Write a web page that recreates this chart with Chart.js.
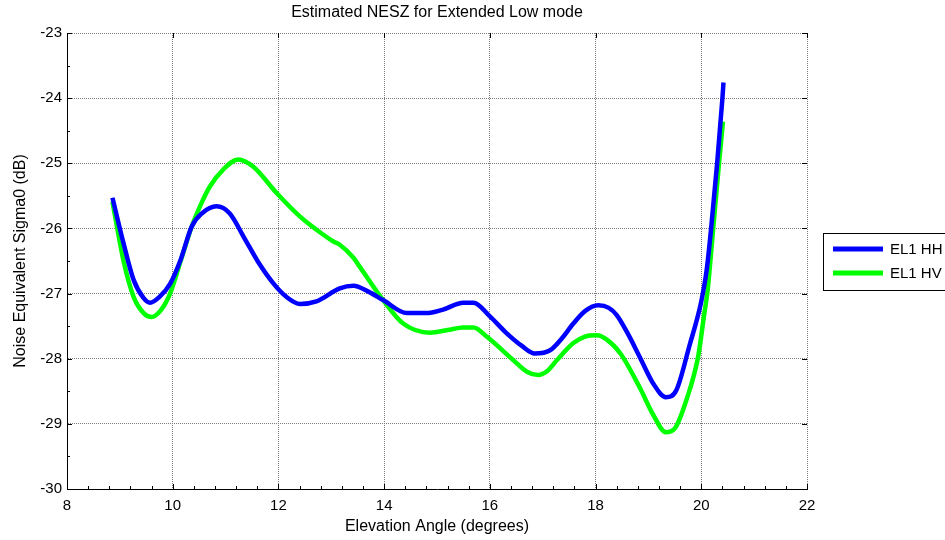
<!DOCTYPE html>
<html>
<head>
<meta charset="utf-8">
<script src="https://cdn.jsdelivr.net/npm/chart.js@4.4.1/dist/chart.umd.min.js"></script>
<style>
  html, body { margin: 0; padding: 0; background: #fff; }
  #wrap { width: 945px; height: 540px; }
</style>
</head>
<body>
<div id="wrap"><canvas id="neszChart"></canvas></div>
<script>
// values
const seriesLabels = ['EL1 HH', 'EL1 HV'];
const seriesColors = ['#0000FF', '#00FF00'];

const hhAngles = [8.86, 9.07, 9.26, 9.45, 9.57, 9.75, 9.95, 10.15, 10.36, 10.55, 10.83, 11.08, 11.35, 11.62,
  11.9, 12.15, 12.41, 12.72, 13.16, 13.42, 13.7, 13.98, 14.43, 14.8, 15.1, 15.5, 15.69, 16.0, 16.32, 16.6,
  16.85, 17.14, 17.35, 17.58, 17.8, 18.05, 18.25, 18.4, 18.6, 18.84, 19.09, 19.33, 19.53, 19.79, 19.9,
  20.0, 20.1, 20.18, 20.3, 20.4, 20.42];
const hhValues = [-25.53, -26.23, -26.79, -27.07, -27.14, -27.05, -26.85, -26.48, -25.97, -25.77, -25.66, -25.77, -26.14, -26.52,
  -26.84, -27.05, -27.16, -27.12, -26.92, -26.88, -26.97, -27.1, -27.3, -27.3, -27.25, -27.14, -27.14, -27.35, -27.61, -27.8,
  -27.92, -27.87, -27.7, -27.46, -27.27, -27.18, -27.22, -27.33, -27.6, -27.98, -28.38, -28.59, -28.48, -27.76, -27.45,
  -27.12, -26.65, -26.05, -25.0, -24.0, -23.76];

const hvAngles = [8.86, 9.07, 9.26, 9.45, 9.6, 9.78, 9.95, 10.15, 10.36, 10.55, 10.7, 10.95, 11.24, 11.52,
  11.97, 12.41, 12.72, 13.04, 13.16, 13.42, 13.54, 13.98, 14.36, 14.87, 15.2, 15.5, 15.69, 15.94, 16.44, 16.7,
  16.91, 17.1, 17.27, 17.58, 17.8, 18.02, 18.2, 18.47, 18.84, 19.09, 19.33, 19.5, 19.72, 19.94, 20.05,
  20.12, 20.22, 20.33, 20.41];
const hvValues = [-25.59, -26.5, -27.05, -27.3, -27.36, -27.25, -27.0, -26.5, -25.97, -25.6, -25.36, -25.1, -24.94, -25.05,
  -25.46, -25.82, -26.02, -26.2, -26.25, -26.45, -26.59, -27.1, -27.46, -27.6, -27.56, -27.52, -27.52, -27.66, -28.02, -28.2,
  -28.25, -28.18, -28.02, -27.76, -27.66, -27.64, -27.7, -27.92, -28.45, -28.86, -29.13, -29.07, -28.63, -27.97, -27.35,
  -26.95, -26.05, -25.05, -24.36];

const xTicks = [8, 10, 12, 14, 16, 18, 20, 22];
const yTicks = [-30, -29, -28, -27, -26, -25, -24, -23];

const toPoints = (xs, ys) => xs.map((v, i) => ({ x: v, y: ys[i] }));

const fontFamily = '"Liberation Sans", Arial, sans-serif';

// MATLAB style ticks pointing into the plot + legend box at the right
const matlabAxes = {
  id: 'matlabAxes',
  afterDraw(chart) {
    const { ctx, chartArea: { left, right, top, bottom }, scales: { x, y } } = chart;
    ctx.save();
    ctx.strokeStyle = '#000';
    ctx.lineWidth = 1;
    ctx.beginPath();
    for (let v = 8; v <= 22.0001; v += 0.4) {
      const px = Math.round(x.getPixelForValue(v)) + 0.5;
      const major = Math.abs(v / 2 - Math.round(v / 2)) < 1e-6;
      const len = major ? 5 : 3;
      ctx.moveTo(px, bottom);
      ctx.lineTo(px, bottom - len);
      if (major) {
        ctx.moveTo(px, top);
        ctx.lineTo(px, top + len);
      }
    }
    for (let v = -30; v <= -22.999; v += 0.5) {
      const py = Math.round(y.getPixelForValue(v)) + 0.5;
      const major = Math.abs(v - Math.round(v)) < 1e-6;
      const len = major ? 5 : 3;
      ctx.moveTo(left, py);
      ctx.lineTo(left + len, py);
      if (major) {
        ctx.moveTo(right, py);
        ctx.lineTo(right - len, py);
      }
    }
    ctx.stroke();

    // legend
    const bx = 823.5, by = 233.5, bw = 140, bh = 57;
    ctx.fillStyle = '#fff';
    ctx.fillRect(bx, by, bw, bh);
    ctx.strokeRect(bx, by, bw, bh);
    ctx.font = '15px ' + fontFamily;
    ctx.textBaseline = 'middle';
    ctx.textAlign = 'left';
    chart.data.datasets.forEach((ds, i) => {
      const ly = 249 + i * 24;
      ctx.strokeStyle = ds.borderColor;
      ctx.lineWidth = 5;
      ctx.beginPath();
      ctx.moveTo(833, ly);
      ctx.lineTo(883, ly);
      ctx.stroke();
      ctx.fillStyle = '#000';
      ctx.fillText(ds.label, 890, ly + 1);
    });
    ctx.restore();
  }
};

new Chart(document.getElementById('neszChart'), {
  type: 'line',
  data: {
    datasets: [
      {
        label: seriesLabels[0],
        data: toPoints(hhAngles, hhValues),
        borderColor: seriesColors[0],
        borderWidth: 4.5,
        pointRadius: 0,
        cubicInterpolationMode: 'monotone',
        fill: false
      },
      {
        label: seriesLabels[1],
        data: toPoints(hvAngles, hvValues),
        borderColor: seriesColors[1],
        borderWidth: 4.5,
        pointRadius: 0,
        cubicInterpolationMode: 'monotone',
        fill: false
      }
    ]
  },
  options: {
    responsive: true,
    maintainAspectRatio: false,
    animation: false,
    layout: { padding: { left: 0, right: 138, top: 0, bottom: 0 } },
    plugins: {
      legend: { display: false },
      tooltip: { enabled: false },
      title: {
        display: true,
        text: 'Estimated NESZ for Extended Low mode',
        fullSize: false,
        color: '#000',
        font: { family: fontFamily, size: 16, weight: 'normal' },
        padding: { top: 3.4, bottom: 10.4 }
      }
    },
    scales: {
      x: {
        type: 'linear',
        min: 8,
        max: 22,
        afterBuildTicks: (scale) => { scale.ticks = xTicks.map(v => ({ value: v })); },
        afterFit: (scale) => { scale.height = 51; },
        ticks: {
          color: '#000',
          font: { family: fontFamily, size: 15 },
          padding: 8,
          maxRotation: 0
        },
        grid: { color: '#7a7a7a', lineWidth: 1, drawTicks: false },
        border: { color: '#000', width: 1, dash: [1, 1] },
        title: {
          display: true,
          text: 'Elevation Angle (degrees)',
          color: '#000',
          font: { family: fontFamily, size: 16 },
          padding: { top: 4, bottom: 3.4 }
        }
      },
      y: {
        type: 'linear',
        min: -30,
        max: -23,
        afterBuildTicks: (scale) => { scale.ticks = yTicks.map(v => ({ value: v })); },
        afterFit: (scale) => { scale.width = 67; },
        ticks: {
          color: '#000',
          font: { family: fontFamily, size: 15 },
          padding: 5
        },
        grid: { color: '#7a7a7a', lineWidth: 1, drawTicks: false },
        border: { color: '#000', width: 1, dash: [1, 1] },
        title: {
          display: true,
          text: 'Noise Equivalent Sigma0 (dB)',
          color: '#000',
          font: { family: fontFamily, size: 16 },
          padding: { top: 11, bottom: 2 }
        }
      }
    }
  },
  plugins: [matlabAxes]
});
</script>
</body>
</html>
